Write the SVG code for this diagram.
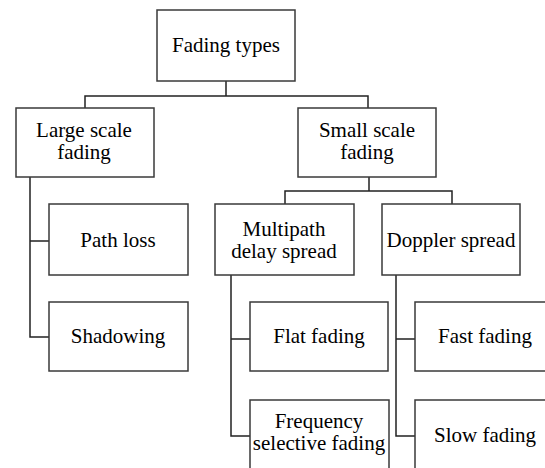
<svg xmlns="http://www.w3.org/2000/svg" width="545" height="468" viewBox="0 0 545 468">
<style>
.box{fill:#fff;stroke:#3a3a3a;stroke-width:1.5}
.con{fill:none;stroke:#222;stroke-width:1.5}
.t{font-family:"Liberation Serif","DejaVu Serif",serif;font-size:21px;fill:#000;text-anchor:middle}
</style>
<rect width="545" height="468" fill="#fff"/>
<g id="connectors">
<path class="con" d="M226 81V96M85 108V96H368V108"/>
<path class="con" d="M369 177V191M285 204V191H452V204"/>
<path class="con" d="M30 177V337H49M30 241H49"/>
<path class="con" d="M231 275V436H250M231 339H250"/>
<path class="con" d="M396 275V436H415M396 339H415"/>
</g>
<g id="fading-types"><rect class="box" x="157" y="10" width="138" height="71"/><text class="t" x="226" y="52">Fading types</text></g>
<g id="large-scale"><rect class="box" x="16" y="108" width="138" height="69"/><text class="t" x="84" y="137">Large scale</text><text class="t" x="84" y="159">fading</text></g>
<g id="small-scale"><rect class="box" x="298" y="108" width="138" height="69"/><text class="t" x="367" y="137">Small  scale</text><text class="t" x="367" y="159">fading</text></g>
<g id="path-loss"><rect class="box" x="49" y="204" width="139" height="71"/><text class="t" x="118" y="247">Path loss</text></g>
<g id="shadowing"><rect class="box" x="49" y="302" width="139" height="69"/><text class="t" x="118" y="343">Shadowing</text></g>
<g id="multipath"><rect class="box" x="215" y="204" width="139" height="71"/><text class="t" x="284" y="236">Multipath</text><text class="t" x="284" y="258">delay spread</text></g>
<g id="doppler"><rect class="box" x="382" y="204" width="138" height="71"/><text class="t" x="451" y="247">Doppler spread</text></g>
<g id="flat-fading"><rect class="box" x="250" y="302" width="138" height="69"/><text class="t" x="319" y="343">Flat fading</text></g>
<g id="freq-selective"><rect class="box" x="250" y="400" width="139" height="80"/><text class="t" x="319" y="428">Frequency</text><text class="t" x="319" y="450">selective fading</text></g>
<g id="fast-fading"><rect class="box" x="415" y="302" width="140" height="69"/><text class="t" x="485" y="343">Fast fading</text></g>
<g id="slow-fading"><rect class="box" x="415" y="400" width="140" height="80"/><text class="t" x="485" y="442">Slow  fading</text></g>
</svg>
